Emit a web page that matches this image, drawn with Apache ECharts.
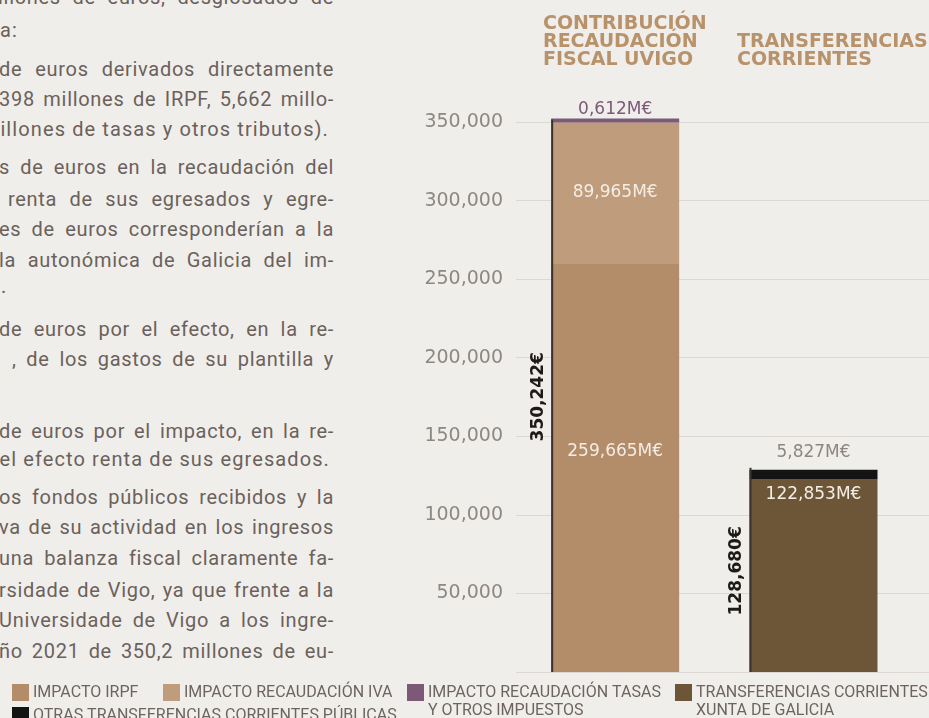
<!DOCTYPE html>
<html lang="es">
<head>
<meta charset="utf-8">
<title>Contribución recaudación fiscal UVigo</title>
<script src="https://cdn.jsdelivr.net/npm/echarts@6/dist/echarts.min.js"></script>
<style>
  html, body { margin: 0; padding: 0; width: 929px; height: 718px; overflow: hidden; background: #f0eeeb; }
  #text { position: absolute; left: 0; top: 0; width: 340px; height: 718px; overflow: hidden;
          font-family: Roboto, "DejaVu Sans", sans-serif; font-size: 20px; letter-spacing: 1.1px; color: #6b615b; }
  .ln { position: absolute; white-space: nowrap; line-height: 22px; }
  .j { text-align: justify; text-align-last: justify; letter-spacing: 0.7px; }
  #chart { position: absolute; left: 0; top: 0; width: 929px; height: 718px; }
</style>
</head>
<body>
<div id="text"></div>
<div id="chart"></div>
<script>
// --- data (miles de euros) ---
const categories = ["CONTRIBUCIÓN\nRECAUDACIÓN\nFISCAL UVIGO", "TRANSFERENCIAS\nCORRIENTES", ""];
const impactoIrpf = [259665, null, null];
const impactoIva = [89965, null, null];
const impactoTasas = [612, null, null];
const transfXunta = [null, 122853, null];
const otrasTransf = [null, 5827, null];
const yTicks = [0, 50000, 100000, 150000, 200000, 250000, 300000, 350000];

// body text beside the chart: [visible text, x-height centre, mode, x]
const bodyLines = [
  ["illones de euros, desglosados de", -1, "j", -2],
  ["a:", 32, "l", 0],
  ["de euros derivados directamente", 71, "j", -1],
  ["398 millones de IRPF, 5,662 millo-", 101, "j", -1],
  ["nillones de tasas y otros tributos).", 131, "r", 329],
  ["s de euros en la recaudación del", 169, "j", -1],
  ["renta de sus egresados y egre-", 201, "j", 8],
  ["es de euros corresponderían a la", 231, "j", -1],
  ["la autonómica de Galicia del im-", 262, "j", -1],
  [".", 288, "l", 1],
  ["de euros por el efecto, en la re-", 331, "j", -1],
  [", de los gastos de su plantilla y", 361, "j", 12],
  ["de euros por el impacto, en la re-", 433, "j", -1],
  ["el efecto renta de sus egresados.", 461, "r", 330],
  ["os fondos públicos recibidos y la", 499, "j", -1],
  ["va de su actividad en los ingresos", 529, "j", -1],
  ["una balanza fiscal claramente fa-", 560, "j", -1],
  ["rsidade de Vigo, ya que frente a la", 592, "j", -1],
  ["Universidade de Vigo a los ingre-", 622, "j", -1],
  ["ño 2021 de 350,2 millones de eu-", 653, "j", -1],
];

const textBox = document.getElementById("text");
bodyLines.forEach(([txt, yc, mode, x]) => {
  const el = document.createElement("div");
  el.className = "ln" + (mode === "j" ? " j" : "");
  el.textContent = txt;
  el.style.top = (yc - 13) + "px";
  if (mode === "j") {
    el.style.left = x + "px";
    el.style.width = (334 - x) + "px";
  } else if (mode === "r") {
    el.style.right = (340 - x) + "px";
  } else {
    el.style.left = x + "px";
  }
  textBox.appendChild(el);
});

const BAR_WIDTH = 128;
const labelFont = '"DejaVu Sans", sans-serif';
const legendFont = 'Roboto, "DejaVu Sans", sans-serif';

function fmtM(p) {
  return (p.value / 1000).toFixed(3).replace(".", ",") + "M€";
}
function fmtThousands(v) {
  return v.toLocaleString("en-US");
}

const totals = categories.map((_, i) =>
  [impactoIrpf, impactoIva, impactoTasas, transfXunta, otrasTransf]
    .reduce((s, arr) => s + (arr[i] || 0), 0)
);

function barSeries(name, data, color, label) {
  return {
    name,
    type: "bar",
    stack: "total",
    data,
    barWidth: BAR_WIDTH,
    clip: false,
    itemStyle: { color },
    label: Object.assign({
      show: true,
      fontFamily: labelFont,
      fontSize: 17,
      formatter: fmtM,
    }, label),
  };
}

const series = [
  barSeries("IMPACTO IRPF", impactoIrpf, "#b38c69",
    { position: "insideTop", distance: 179, color: "#f4ede6" }),
  barSeries("IMPACTO RECAUDACIÓN IVA", impactoIva, "#bf9c7b",
    { position: "insideTop", distance: 61, color: "#f4ede6" }),
  Object.assign(barSeries("IMPACTO RECAUDACIÓN TASAS\nY OTROS IMPUESTOS", impactoTasas, "#7c5a77",
    { position: "top", distance: 1, color: "#7c5a77" }), { barMinHeight: 4 }),
  barSeries("TRANSFERENCIAS CORRIENTES\nXUNTA DE GALICIA", transfXunta, "#6c5637",
    { position: "insideTop", distance: 7, color: "#f4ede6" }),
  barSeries("OTRAS TRANSFERENCIAS CORRIENTES PÚBLICAS", otrasTransf, "#141414",
    { position: "top", distance: 9, color: "#8d8681" }),
];

// legend swatches laid out like the printed key (first line aligned with the swatch)
const legendSpots = [[12, 684], [163, 684], [407, 684], [675, 684], [12, 707]];
const legendGraphics = [];
series.forEach((s, i) => {
  const [lx, ly] = legendSpots[i];
  legendGraphics.push({
    type: "rect",
    shape: { x: lx, y: ly, width: 17, height: 17 },
    style: { fill: s.itemStyle.color },
    silent: true,
  });
  legendGraphics.push({
    type: "text",
    x: lx + 21,
    y: ly + 8.5 - 9,
    style: {
      text: s.name,
      font: '16px ' + legendFont,
      lineHeight: 18,
      fill: "#6d6460",
      verticalAlign: "top",
      align: "left",
    },
    silent: true,
  });
});

series.push({
  name: "total",
  type: "custom",
  z: 5,
  data: totals.slice(0, 2).map((v, i) => [i, v]),
  renderItem(params, api) {
    const base = api.coord([api.value(0), 0]);
    const top = api.coord([api.value(0), api.value(1)]);
    const x = base[0] - BAR_WIDTH / 2;
    return {
      type: "group",
      children: [
        {
          type: "line",
          shape: { x1: x + 1, y1: base[1], x2: x + 1, y2: top[1] - 2 },
          style: { stroke: "#3a332d", lineWidth: 2 },
        },
        {
          type: "text",
          x: x - 13,
          y: (base[1] + top[1]) / 2,
          rotation: Math.PI / 2,
          style: {
            text: fmtThousands(api.value(1)) + "€",
            align: "center",
            verticalAlign: "middle",
            font: 'bold 17px "DejaVu Sans", sans-serif',
            fill: "#1d1a17",
          },
        },
      ],
    };
  },
});

const chart = echarts.init(document.getElementById("chart"));
chart.setOption({
  animation: false,
  title: [
    { text: categories[0], left: 543, top: 15 },
    { text: categories[1], left: 737, top: 33 },
  ].map((t) => Object.assign(t, {
    padding: 0,
    textStyle: { fontFamily: labelFont, fontWeight: "bold", fontSize: 19, lineHeight: 18, color: "#b8926a" },
  })),
  graphic: legendGraphics,
  grid: { left: 516, top: 122, width: 595, height: 550, outerBoundsMode: "none" },
  xAxis: {
    type: "category",
    data: categories,
    axisLine: { show: false },
    axisTick: { show: false },
    axisLabel: { show: false },
  },
  yAxis: {
    type: "value",
    min: yTicks[0],
    max: yTicks[yTicks.length - 1],
    interval: yTicks[1] - yTicks[0],
    axisLine: { show: false },
    axisTick: { show: false },
    axisLabel: {
      showMinLabel: false,
      margin: 13,
      fontFamily: labelFont,
      fontSize: 19,
      color: "#8e8782",
      formatter: fmtThousands,
    },
    splitLine: { lineStyle: { color: "#dcd7d2", width: 1 } },
  },
  series,
});
window.addEventListener("resize", () => chart.resize());
</script>
</body>
</html>
